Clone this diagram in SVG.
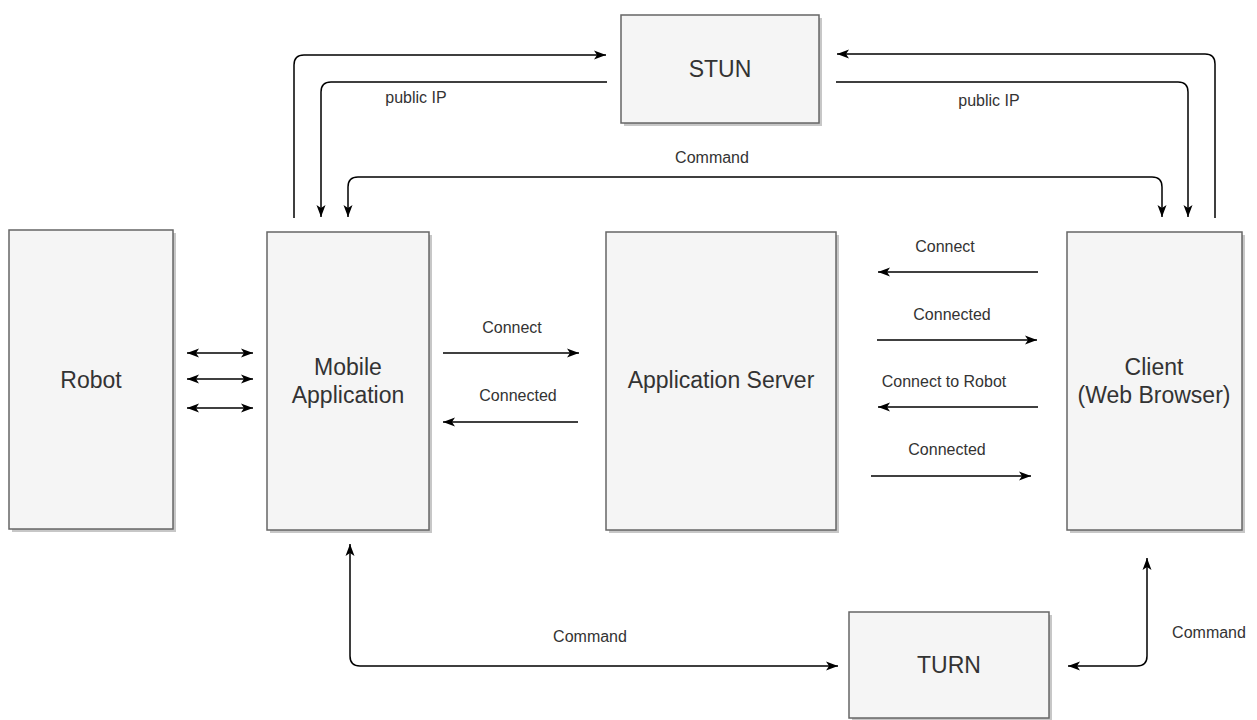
<svg xmlns="http://www.w3.org/2000/svg" width="1257" height="720" viewBox="0 0 1257 720">
<style>
.box{fill:#f5f5f5;stroke:#666;stroke-width:1.5}
.sh{fill:#000;opacity:0.22}
.nt{font-family:"Liberation Sans",Arial,sans-serif;font-size:23px;fill:#333;text-anchor:middle;dominant-baseline:central}
.lb{font-family:"Liberation Sans",Arial,sans-serif;font-size:16px;fill:#333;text-anchor:middle;dominant-baseline:central}
.c{fill:none;stroke:#000;stroke-width:1.5}
.e{marker-end:url(#ah)}
.b{marker-start:url(#ah);marker-end:url(#ah)}
</style>
<defs>
<marker id="ah" viewBox="0 0 12 10" refX="12" refY="5" markerWidth="12" markerHeight="10" markerUnits="userSpaceOnUse" orient="auto-start-reverse"><path d="M0,0.5 L12,5 L0,9.5 L3,5 z" fill="#000"/></marker>
</defs>
<rect width="1257" height="720" fill="#fff"/>
<g id="robot"><rect class="sh" x="12" y="233" width="164" height="299"/><rect class="box" x="9" y="230" width="164" height="299"/><text class="nt" x="91" y="380">Robot</text></g>
<g id="mobile"><rect class="sh" x="270" y="235" width="162" height="298"/><rect class="box" x="267" y="232" width="162" height="298"/><text class="nt" x="348" y="367">Mobile</text><text class="nt" x="348" y="395">Application</text></g>
<g id="server"><rect class="sh" x="609" y="235" width="230" height="298"/><rect class="box" x="606" y="232" width="230" height="298"/><text class="nt" x="721" y="380">Application Server</text></g>
<g id="client"><rect class="sh" x="1070" y="235" width="175" height="298"/><rect class="box" x="1067" y="232" width="175" height="298"/><text class="nt" x="1154" y="367">Client</text><text class="nt" x="1154" y="395">(Web Browser)</text></g>
<g id="stun"><rect class="sh" x="624" y="18" width="198" height="108"/><rect class="box" x="621" y="15" width="198" height="108"/><text class="nt" x="720" y="69">STUN</text></g>
<g id="turn"><rect class="sh" x="852" y="615" width="200" height="106"/><rect class="box" x="849" y="612" width="200" height="106"/><text class="nt" x="949" y="665">TURN</text></g>
<g id="connectors">
<path class="c e" d="M294,218 V65 Q294,55 304,55 H606"/>
<path class="c e" d="M607,82 H331 Q321,82 321,92 V217"/>
<path class="c b" d="M348,217 V187 Q348,177 358,177 H1152 Q1162,177 1162,187 V217"/>
<path class="c e" d="M836,82 H1178 Q1188,82 1188,92 V217"/>
<path class="c e" d="M1215,218 V64 Q1215,54 1205,54 H837"/>
<path class="c b" d="M187,353 H253"/>
<path class="c b" d="M187,379 H253"/>
<path class="c b" d="M187,408 H253"/>
<path class="c e" d="M443,353 H579"/>
<path class="c e" d="M578,422 H443"/>
<path class="c e" d="M1038,272 H878"/>
<path class="c e" d="M877,340 H1037"/>
<path class="c e" d="M1038,407 H878"/>
<path class="c e" d="M871,476 H1031"/>
<path class="c b" d="M350,544 V656 Q350,666 360,666 H838"/>
<path class="c b" d="M1147,558 V656 Q1147,666 1137,666 H1068"/>
<text class="lb" x="416" y="97">public IP</text>
<text class="lb" x="989" y="100">public IP</text>
<text class="lb" x="712" y="157">Command</text>
<text class="lb" x="512" y="327">Connect</text>
<text class="lb" x="518" y="395">Connected</text>
<text class="lb" x="945" y="246">Connect</text>
<text class="lb" x="952" y="314">Connected</text>
<text class="lb" x="944" y="381">Connect to Robot</text>
<text class="lb" x="947" y="449">Connected</text>
<text class="lb" x="590" y="636">Command</text>
<text class="lb" x="1209" y="632">Command</text>
</g>
</svg>
